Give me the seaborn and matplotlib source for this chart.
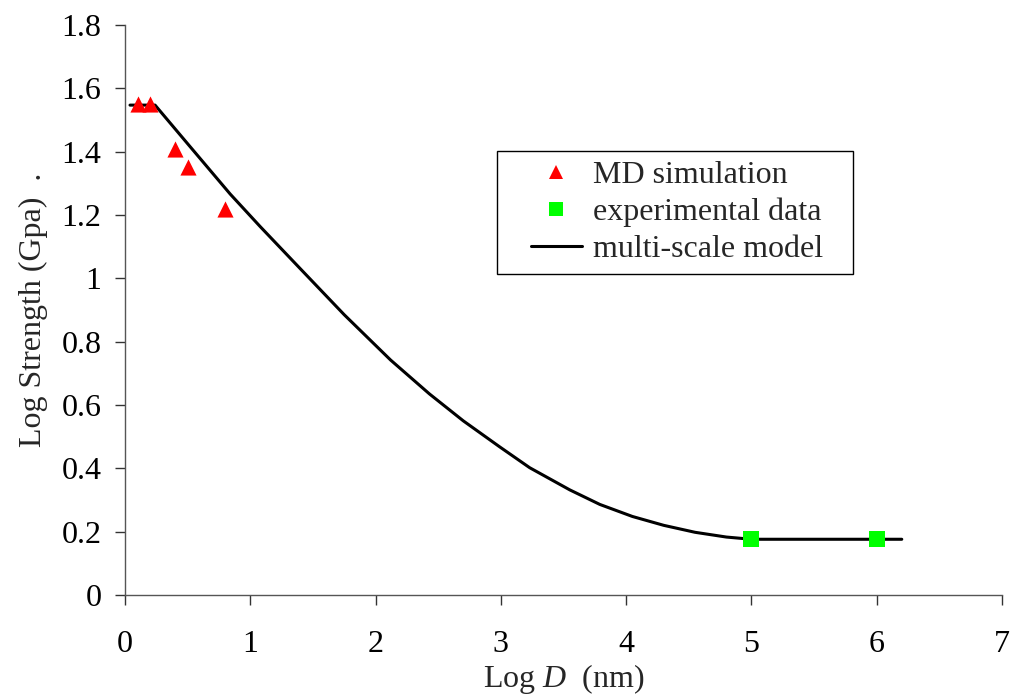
import matplotlib
matplotlib.use("Agg")
import matplotlib.pyplot as plt
from matplotlib.lines import Line2D
from matplotlib.legend_handler import HandlerLine2D
import seaborn as sns
import pandas as pd

# MD simulation results
md_logd = [0.1, 0.2, 0.4, 0.5, 0.8]
md_strength = [1.55, 1.55, 1.41, 1.35, 1.22]

# Experimental measurements
exp_logd = [5.0, 6.0]
exp_strength = [0.176, 0.176]

# Multi-scale model curve
model_logd = [0.04, 0.24, 0.50, 0.84, 1.08, 1.40, 1.75, 2.12, 2.43, 2.70, 2.99,
              3.23, 3.55, 3.79, 4.05, 4.30, 4.55, 4.80, 5.00, 6.20]
model_strength = [1.547, 1.547, 1.425, 1.266, 1.163, 1.030, 0.885, 0.742, 0.635,
                  0.550, 0.468, 0.402, 0.332, 0.286, 0.248, 0.220, 0.198, 0.183,
                  0.176, 0.176]

x_ticks = [0, 1, 2, 3, 4, 5, 6, 7]
y_ticks = [0, 0.2, 0.4, 0.6, 0.8, 1.0, 1.2, 1.4, 1.6, 1.8]
y_tick_labels = ["0", "0.2", "0.4", "0.6", "0.8", "1", "1.2", "1.4", "1.6", "1.8"]

sns.set_style("white")
plt.rcParams["font.family"] = ["Liberation Serif", "DejaVu Serif"]
plt.rcParams["mathtext.fontset"] = "custom"
plt.rcParams["mathtext.rm"] = "Liberation Serif"
plt.rcParams["mathtext.it"] = "Liberation Serif:italic"

FS = 23

W, H = 1013, 698
fig = plt.figure(figsize=(W / 100, H / 100), dpi=100)
ax = fig.add_axes([125 / W, 1 - 595 / H, (1002 - 125) / W, (595 - 25) / H])

model_df = pd.DataFrame({"logd": model_logd, "strength": model_strength})
md_df = pd.DataFrame({"logd": md_logd, "strength": md_strength})
exp_df = pd.DataFrame({"logd": exp_logd, "strength": exp_strength})

sns.lineplot(data=model_df, x="logd", y="strength", ax=ax, color="black",
             linewidth=2.2, sort=False, zorder=2)
sns.scatterplot(data=md_df, x="logd", y="strength", ax=ax, marker="^",
                color="#ff0000", s=135, linewidth=0, zorder=3)
sns.scatterplot(data=exp_df, x="logd", y="strength", ax=ax, marker="s",
                color="#00ff00", s=130, linewidth=0, zorder=3)

ax.set_xlim(0, 7)
ax.set_ylim(0, 1.8)
ax.set_xticks(x_ticks)
ax.set_xticklabels([str(t) for t in x_ticks])
ax.set_yticks(y_ticks)
ax.set_yticklabels(y_tick_labels)

for side in ["top", "right"]:
    ax.spines[side].set_visible(False)
for side in ["left", "bottom"]:
    ax.spines[side].set_color("#555555")
    ax.spines[side].set_linewidth(1.0)

ax.tick_params(axis="both", which="major", direction="out", length=7,
               width=1.0, color="#333333", labelsize=FS, labelcolor="black",
               bottom=True, left=True)
ax.tick_params(axis="x", pad=18)
ax.tick_params(axis="y", pad=10)

ax.set_xlabel("Log $\\it{D}$  (nm)", fontsize=FS, labelpad=2)
ax.set_ylabel("Log Strength (Gpa)  .", fontsize=FS, labelpad=10)

tri = Line2D([], [], linestyle="none", marker="^", color="#ff0000",
             markersize=10.5, markeredgewidth=0)
sq = Line2D([], [], linestyle="none", marker="s", color="#00ff00",
            markersize=10, markeredgewidth=0)
model_line = Line2D([], [], color="black", linewidth=2.2)
labels = ["MD simulation", "experimental data", "multi-scale model"]

leg = ax.legend([tri, sq, model_line], labels, loc="upper left",
                bbox_to_anchor=(497 / W, 1 - 268 / H, (853 - 497) / W, (268 - 151) / H),
                bbox_transform=fig.transFigure, mode="expand", borderaxespad=0,
                fontsize=FS, frameon=True, fancybox=False, framealpha=1,
                edgecolor="black", handlelength=3.1, handletextpad=-0.4,
                labelspacing=0.24, borderpad=0.3,
                handler_map={model_line: HandlerLine2D(numpoints=2, marker_pad=0.75)})
leg.get_frame().set_linewidth(1.0)

fig.savefig("out.png", dpi=100)
